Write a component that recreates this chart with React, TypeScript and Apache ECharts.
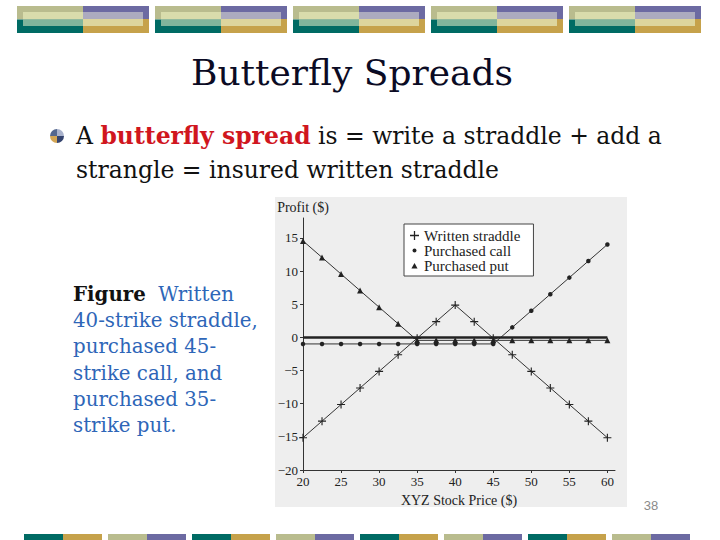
import { useEffect, useRef } from 'react';
import * as echarts from 'echarts';

// stock prices at expiration
const X_VALUES = [20, 22.5, 25, 27.5, 30, 32.5, 35, 37.5, 40, 42.5, 45, 47.5, 50, 52.5, 55, 57.5, 60];

// profit of each position
const WRITTEN_STRADDLE = [-15.13, -12.63, -10.13, -7.63, -5.13, -2.63, -0.13, 2.37, 4.87, 2.37, -0.13, -2.63, -5.13, -7.63, -10.13, -12.63, -15.13];
const PURCHASED_CALL = [-0.99, -0.99, -0.99, -0.99, -0.99, -0.99, -0.99, -0.99, -0.99, -0.99, -0.99, 1.51, 4.01, 6.51, 9.01, 11.51, 14.01];
const PURCHASED_PUT = [14.55, 12.05, 9.55, 7.05, 4.55, 2.05, -0.45, -0.45, -0.45, -0.45, -0.45, -0.45, -0.45, -0.45, -0.45, -0.45, -0.45];

const SERIES_NAMES = ['Written straddle', 'Purchased call', 'Purchased put'];
const X_TICKS = [20, 25, 30, 35, 40, 45, 50, 55, 60];
const Y_TICKS = [-20, -15, -10, -5, 0, 5, 10, 15];
const ZERO_LINE = [20, 60];

const PLUS = 'path://M4.3,0h1.4v4.3h4.3v1.4h-4.3v4.3h-1.4v-4.3h-4.3v-1.4h4.3z';
// the leading moves only widen the box so the legend draws a small mark
const DOT_ICON = 'path://M0,0M10,10M2.8,5a2.2,2.2 0 1,0 4.4,0a2.2,2.2 0 1,0 -4.4,0z';
const TRI_ICON = 'path://M0,0M10,10M1.6,8.4L5,2.2L8.4,8.4z';
const CHART_FONT = 'Liberation Serif';
const SLIDE_FONT = 'DejaVu Serif';

const rect = (x: number, y: number, w: number, h: number, fill: string) => ({
  type: 'rect',
  shape: { x, y, width: w, height: h },
  style: { fill },
  silent: true,
});

// header banner blocks
const headerBlocks = () => {
  const out: any[] = [];
  [17, 155, 293, 431, 569].forEach((bx) => {
    out.push(rect(bx, 6, 66, 13.5, '#B9BC8E'));
    out.push(rect(bx, 19.5, 66, 13.5, '#006B64'));
    out.push(rect(bx + 6, 12, 60, 7.5, '#D9DCAC'));
    out.push(rect(bx + 6, 19.5, 60, 6.5, '#80B59C'));
    out.push(rect(bx + 66, 6, 66, 13, '#6C6AA2'));
    out.push(rect(bx + 66, 19, 66, 14, '#C6A24B'));
    out.push(rect(bx + 66, 12, 60, 7, '#ACABBF'));
    out.push(rect(bx + 66, 19, 60, 7, '#DDD59D'));
  });
  return out;
};

// footer strip
const footerBlocks = () => {
  const out: any[] = [];
  for (let i = 0; i < 8; i++) {
    const x = 24 + 84 * i;
    const even = i % 2 === 0;
    out.push(rect(x, 534, 39, 6, even ? '#006B64' : '#B9BC8E'));
    out.push(rect(x + 39, 534, 39, 6, even ? '#C6A24B' : '#6C6AA2'));
  }
  return out;
};

export default function App() {
  const chartRef = useRef<HTMLDivElement>(null);

  useEffect(() => {
    if (!chartRef.current) return;
    const chart = echarts.init(chartRef.current, null, { renderer: 'svg' });

    const pairs = (ys: number[]) => X_VALUES.map((x, i) => [x, ys[i]]);
    const minus = (v: number) => String(v).replace('-', '\u2212');

    const lineBase = {
      type: 'line',
      lineStyle: { color: '#333', width: 1 },
      itemStyle: { color: '#222' },
      emphasis: { disabled: true },
    };

    const option: any = {
      animation: false,
      backgroundColor: '#fff',
      textStyle: { fontFamily: CHART_FONT },
      grid: { left: 303, top: 218, width: 312, height: 252 },
      xAxis: {
        type: 'value',
        min: 20,
        max: 61,
        name: 'XYZ Stock Price ($)',
        nameLocation: 'middle',
        nameGap: 23,
        nameTextStyle: { fontSize: 14, color: '#222', fontFamily: CHART_FONT },
        axisLine: { onZero: false, lineStyle: { color: '#333', width: 1 } },
        axisTick: { customValues: X_TICKS, length: 3, lineStyle: { color: '#333' } },
        axisLabel: { customValues: X_TICKS, fontSize: 13, color: '#222', margin: 5, fontFamily: CHART_FONT },
        splitLine: { show: false },
      },
      yAxis: {
        type: 'value',
        min: -20,
        max: 18,
        name: 'Profit ($)',
        nameLocation: 'end',
        nameGap: 4,
        nameTextStyle: { fontSize: 14, color: '#222', fontFamily: CHART_FONT },
        axisLine: { show: true, lineStyle: { color: '#333', width: 1 } },
        axisTick: { customValues: Y_TICKS, length: 3, lineStyle: { color: '#333' } },
        axisLabel: {
          customValues: Y_TICKS,
          fontSize: 13,
          color: '#222',
          margin: 5,
          fontFamily: CHART_FONT,
          formatter: minus,
        },
        splitLine: { show: false },
      },
      legend: {
        orient: 'vertical',
        left: 404,
        top: 224,
        padding: [4, 13, 3, 6],
        itemGap: 0,
        itemWidth: 9,
        itemHeight: 9,
        borderColor: '#444',
        borderWidth: 1,
        backgroundColor: '#fff',
        textStyle: { fontSize: 15, color: '#222', fontFamily: CHART_FONT },
        data: [
          { name: SERIES_NAMES[0], icon: PLUS },
          { name: SERIES_NAMES[1], icon: DOT_ICON },
          { name: SERIES_NAMES[2], icon: TRI_ICON },
        ],
      },
      series: [
        {
          ...lineBase,
          name: SERIES_NAMES[0],
          data: pairs(WRITTEN_STRADDLE),
          symbol: PLUS,
          symbolSize: 8,
          markLine: {
            silent: true,
            symbol: 'none',
            label: { show: false },
            lineStyle: { color: '#222', width: 2.5, type: 'solid' },
            data: [[{ coord: [ZERO_LINE[0], 0] }, { coord: [ZERO_LINE[1], 0] }]],
          },
        },
        {
          ...lineBase,
          name: SERIES_NAMES[1],
          data: pairs(PURCHASED_CALL),
          symbol: 'circle',
          symbolSize: 4.5,
        },
        {
          ...lineBase,
          name: SERIES_NAMES[2],
          data: pairs(PURCHASED_PUT),
          symbol: 'triangle',
          symbolSize: 6,
        },
      ],
      graphic: [
        ...headerBlocks(),
        ...footerBlocks(),
        { ...rect(275, 197, 352, 310, '#EEEEEE'), z: -10 },
        {
          type: 'text',
          x: 352,
          y: 72,
          style: {
            text: 'Butterfly Spreads',
            font: `36px "${SLIDE_FONT}"`,
            fill: '#0B0B24',
            textAlign: 'center',
            textVerticalAlign: 'middle',
          },
        },
        // bullet sphere
        { type: 'sector', shape: { cx: 57, cy: 136, r: 7, startAngle: Math.PI, endAngle: Math.PI * 1.5 }, style: { fill: '#54678F' } },
        { type: 'sector', shape: { cx: 57, cy: 136, r: 7, startAngle: Math.PI * 1.5, endAngle: Math.PI * 2 }, style: { fill: '#A9B2CC' } },
        { type: 'sector', shape: { cx: 57, cy: 136, r: 7, startAngle: 0, endAngle: Math.PI * 0.5 }, style: { fill: '#34436E' } },
        { type: 'sector', shape: { cx: 57, cy: 136, r: 7, startAngle: Math.PI * 0.5, endAngle: Math.PI }, style: { fill: '#D3A554' } },
        {
          type: 'text',
          x: 76,
          y: 136,
          style: {
            text: '{a|A }{b|butterfly spread}{a| is = write a straddle + add a}',
            textVerticalAlign: 'middle',
            rich: {
              a: { font: `23.5px "${SLIDE_FONT}"`, fill: '#111' },
              b: { font: `bold 23.5px "${SLIDE_FONT}"`, fill: '#D0161E' },
            },
          },
        },
        {
          type: 'text',
          x: 76,
          y: 170,
          style: {
            text: 'strangle = insured written straddle',
            font: `23.5px "${SLIDE_FONT}"`,
            fill: '#111',
            textVerticalAlign: 'middle',
          },
        },
        {
          type: 'text',
          x: 73,
          y: 281,
          style: {
            text:
              '{k|Figure}{c|  Written}\n{c|40-strike straddle,}\n{c|purchased 45-}\n{c|strike call, and}\n{c|purchased 35-}\n{c|strike put.}',
            textVerticalAlign: 'top',
            rich: {
              k: { font: `bold 19.8px "${SLIDE_FONT}"`, fill: '#111', lineHeight: 26.3 },
              c: { font: `19.8px "${SLIDE_FONT}"`, fill: '#2E66B8', lineHeight: 26.3 },
            },
          },
        },
        {
          type: 'text',
          x: 651,
          y: 505,
          style: {
            text: '38',
            font: '13px "Liberation Sans"',
            fill: '#8A8A8A',
            textAlign: 'center',
            textVerticalAlign: 'middle',
          },
        },
      ],
    };

    chart.setOption(option);
    return () => chart.dispose();
  }, []);

  return (
    <div
      ref={chartRef}
      style={{ position: 'absolute', left: 0, top: 0, width: 720, height: 540, background: '#fff' }}
    />
  );
}
